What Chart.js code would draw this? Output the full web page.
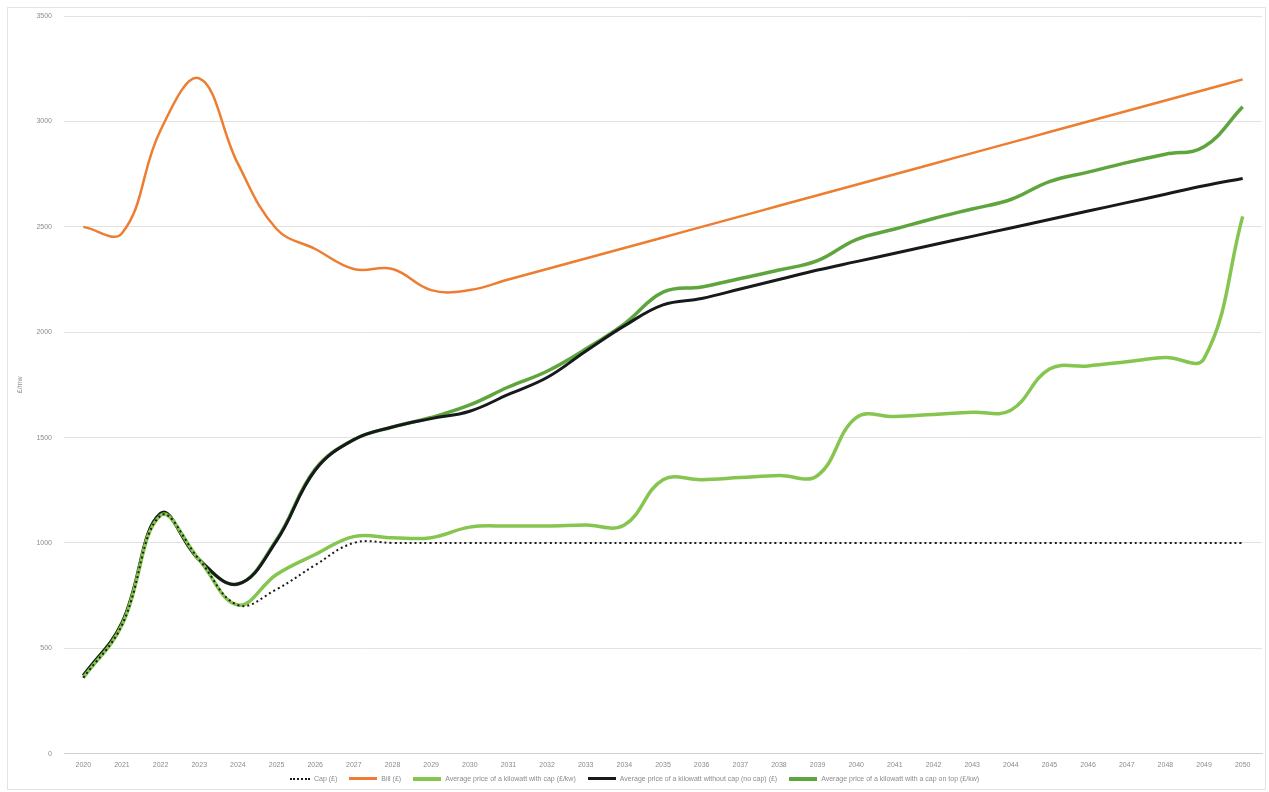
<!DOCTYPE html>
<html>
<head>
<meta charset="utf-8">
<script src="https://cdn.jsdelivr.net/npm/chart.js@4.4.1/dist/chart.umd.min.js"></script>
<style>
	html, body { margin: 0; padding: 0; background: #fff; }
	.frame { position: absolute; left: 7px; top: 7px; width: 1257px; height: 781px; border: 1px solid #e3e3e3; }
	.chart-wrap { position: absolute; left: 0; top: 0; width: 1269px; height: 792px; }
	#legend-container { position: absolute; left: 0; top: 775px; width: 1269px; }
	.legend-list { display: flex; justify-content: center; align-items: center; margin: 0; padding: 0; list-style: none; }
	.legend-element { display: flex; align-items: center; margin: 0 6px; }
	.legend-element-color { display: inline-block; width: 28px; height: 0; margin-right: 4px; }
	.legend-element-text { margin: 0; font: 7px 'Liberation Sans', sans-serif; color: #8c8c8c; white-space: nowrap; }
</style>
</head>
<body>
<div class="frame"></div>
<div class="chart-wrap"><canvas id="priceChart" width="1269" height="792"></canvas></div>
<div id="legend-container"></div>
<script>
// years along the x axis
const years = ['2020', '2021', '2022', '2023', '2024', '2025', '2026', '2027', '2028', '2029',
	'2030', '2031', '2032', '2033', '2034', '2035', '2036', '2037', '2038', '2039',
	'2040', '2041', '2042', '2043', '2044', '2045', '2046', '2047', '2048', '2049', '2050'];

// values (£)
const capValues = [360, 610, 1130, 920, 705, 780, 895, 1000, 1000, 1000,
	1000, 1000, 1000, 1000, 1000, 1000, 1000, 1000, 1000, 1000,
	1000, 1000, 1000, 1000, 1000, 1000, 1000, 1000, 1000, 1000, 1000];
const wholesaleValues = [2500, 2470, 2960, 3205, 2800, 2490, 2395, 2300, 2300, 2200,
	2200, 2250, 2300, 2350, 2400, 2450, 2500, 2550, 2600, 2650,
	2700, 2750, 2800, 2850, 2900, 2950, 3000, 3050, 3100, 3150, 3200];
const withCapValues = [360, 610, 1130, 920, 705, 850, 945, 1030, 1025, 1025,
	1075, 1080, 1080, 1085, 1085, 1300, 1300, 1310, 1320, 1320,
	1595, 1600, 1610, 1620, 1630, 1825, 1840, 1860, 1880, 1875, 2550];
const noCapValues = [370, 620, 1140, 920, 805, 1010, 1345, 1490, 1550, 1590,
	1625, 1705, 1785, 1910, 2030, 2130, 2160, 2205, 2250, 2295,
	2335, 2375, 2415, 2455, 2495, 2535, 2575, 2615, 2655, 2695, 2730];
const capOnTopValues = [370, 620, 1140, 920, 805, 1015, 1350, 1490, 1550, 1595,
	1655, 1740, 1815, 1920, 2040, 2190, 2215, 2255, 2295, 2340,
	2440, 2490, 2540, 2585, 2630, 2715, 2760, 2805, 2845, 2880, 3070];

const tickColor = '#8c8c8c';
const gridColor = '#e2e2e2';
const smallFont = { size: 7, family: 'Liberation Sans' };

// legend drawn as html so the spacing can follow the original
const htmlLegendPlugin = {
	id: 'htmlLegend',
	afterUpdate(chart, args, options) {
		const legendContainer = document.getElementById(options.containerID);
		let listContainer = legendContainer.querySelector('ul');
		if (!listContainer) {
			listContainer = document.createElement('ul');
			listContainer.className = 'legend-list';
			legendContainer.appendChild(listContainer);
		}
		while (listContainer.firstChild) {
			listContainer.firstChild.remove();
		}

		chart.data.datasets.forEach(ds => {
			const legendElement = document.createElement('li');
			legendElement.className = 'legend-element';

			const legendElementColor = document.createElement('span');
			legendElementColor.className = 'legend-element-color';
			const style = ds.borderDash ? 'dotted' : 'solid';
			legendElementColor.style.borderTop = `${Math.round(ds.borderWidth)}px ${style} ${ds.borderColor}`;
			if (ds.borderDash) legendElementColor.style.width = '20px';

			const legendElementText = document.createElement('p');
			legendElementText.className = 'legend-element-text';
			legendElementText.appendChild(document.createTextNode(ds.label));

			legendElement.appendChild(legendElementColor);
			legendElement.appendChild(legendElementText);
			listContainer.appendChild(legendElement);
		});
	}
};

const ctx = document.getElementById('priceChart').getContext('2d');

new Chart(ctx, {
	type: 'line',
	data: {
		labels: years,
		datasets: [
			{
				label: 'Cap (£)',
				data: capValues,
				borderColor: '#1a1a1a',
				borderWidth: 2,
				borderDash: [2, 3],
				tension: 0.4
			},
			{
				label: 'Bill (£)',
				data: wholesaleValues,
				borderColor: '#ed7d31',
				borderWidth: 2.5,
				tension: 0.4
			},
			{
				label: 'Average price of a kilowatt with cap (£/kw)',
				data: withCapValues,
				borderColor: '#86c550',
				borderWidth: 3.5,
				tension: 0.4
			},
			{
				label: 'Average price of a kilowatt without cap (no cap) (£)',
				data: noCapValues,
				borderColor: '#161a1d',
				borderWidth: 3,
				tension: 0.4
			},
			{
				label: 'Average price of a kilowatt with a cap on top (£/kw)',
				data: capOnTopValues,
				borderColor: '#5fa53d',
				borderWidth: 3.5,
				tension: 0.4
			}
		]
	},
	options: {
		responsive: false,
		animation: false,
		layout: {
			padding: { left: 14, right: 7, top: 12, bottom: 16 }
		},
		elements: {
			point: { radius: 0 }
		},
		scales: {
			x: {
				offset: true,
				grid: { display: false, drawTicks: false },
				border: { color: '#d0d0d0' },
				ticks: {
					color: tickColor,
					font: smallFont,
					maxRotation: 0,
					autoSkip: false,
					padding: 7
				}
			},
			y: {
				min: 0,
				max: 3500,
				afterFit(scale) { scale.width = 50; },
				grid: { color: gridColor, drawTicks: false },
				border: { display: false },
				ticks: {
					stepSize: 500,
					color: tickColor,
					font: smallFont,
					padding: 12,
					callback: (value) => String(value)
				},
				title: {
					display: true,
					text: '£/mw',
					color: tickColor,
					font: smallFont,
					padding: 2
				}
			}
		},
		plugins: {
			legend: { display: false },
			htmlLegend: { containerID: 'legend-container' },
			tooltip: { enabled: false }
		}
	},
	plugins: [htmlLegendPlugin]
});
</script>
</body>
</html>
